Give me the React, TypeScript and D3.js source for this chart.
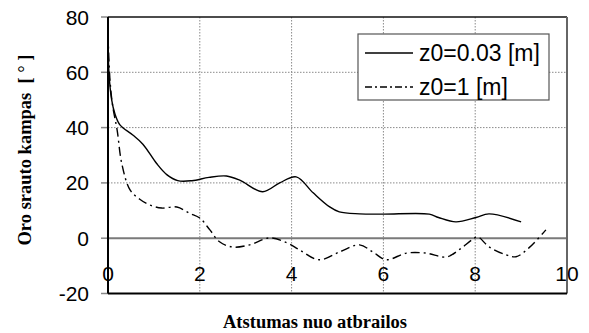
import React from "react";
import * as d3 from "d3";

// Distance from the edge (x) and airflow angle in degrees (y)
const roughLowX = [0, 0.02, 0.08, 0.15, 0.26, 0.54, 0.76, 1.06, 1.28, 1.52, 1.83, 2.2, 2.58, 2.87, 3.37, 3.74, 4.1, 4.47, 4.83, 5.04, 5.48, 6.0, 7.0, 7.2, 7.58, 8.02, 8.3, 9.0];
const roughLowY = [74, 60, 50, 45, 41, 37.3, 34, 27, 23, 20.8, 20.8, 22, 22.5, 21, 16.8, 20, 22.2, 16.4, 11.3, 9.5, 8.8, 8.7, 8.7, 7.5, 5.9, 7.5, 8.8, 5.9];

const roughHighX = [0, 0.04, 0.1, 0.2, 0.3, 0.48, 0.7, 0.91, 1.17, 1.5, 1.78, 2.0, 2.22, 2.43, 2.72, 3.09, 3.52, 3.9, 4.17, 4.6, 5.04, 5.48, 5.77, 6.06, 6.5, 6.93, 7.37, 7.65, 7.93, 8.05, 8.3, 8.67, 8.89, 9.17, 9.54];
const roughHighY = [74, 58, 48, 39, 27, 17.5, 14, 12, 10.9, 11.3, 9, 7.3, 3, -1.3, -3.2, -2.4, 0.1, -1.7, -4.2, -7.8, -5, -2.4, -5, -7.8, -5.4, -5.4, -6.8, -4.2, -0.6, 0.5, -3.1, -6, -6.7, -3.5, 3];

const xTicks = [0, 2, 4, 6, 8, 10];
const yTicks = [-20, 0, 20, 40, 60, 80];
const seriesLabels = ["z0=0.03 [m]", "z0=1 [m]"];

const W = 589;
const H = 333;
const L = 108;
const R = 567;
const T = 17;
const B = 293.5;

export default function App() {
  const x = d3.scaleLinear().domain([0, 10]).range([L, R]);
  const y = d3.scaleLinear().domain([-20, 80]).range([B, T]);

  const line = d3
    .line<[number, number]>()
    .x((d) => x(d[0]))
    .y((d) => y(d[1]))
    .curve(d3.curveCatmullRom.alpha(0.5));

  const lowPts = roughLowX.map((v, i) => [v, roughLowY[i]] as [number, number]);
  const highPts = roughHighX.map((v, i) => [v, roughHighY[i]] as [number, number]);

  const axisFont = "Arial, 'Liberation Sans', sans-serif";
  const titleFont = "'Times New Roman', 'Liberation Serif', serif";
  const dash = "9,4,2,4";

  return (
    <svg
      width={W}
      height={H}
      style={{ position: "absolute", left: 0, top: 0, background: "#fff" }}
    >
      {/* grid */}
      {xTicks
        .filter((t) => t > 0 && t < 10)
        .map((t) => (
          <line key={"gx" + t} x1={x(t)} x2={x(t)} y1={T} y2={B} stroke="#8a8a8a" strokeWidth={1} strokeDasharray="1.5,1.5" />
        ))}
      {yTicks
        .filter((t) => t > 0 && t < 80)
        .map((t) => (
          <line key={"gy" + t} x1={L} x2={R} y1={y(t)} y2={y(t)} stroke="#8a8a8a" strokeWidth={1} strokeDasharray="1.5,1.5" />
        ))}
      {/* zero line */}
      <line x1={L} x2={R} y1={y(0)} y2={y(0)} stroke="#7a7a7a" strokeWidth={2} />

      {/* y tick marks */}
      {yTicks.map((t) => (
        <line key={"ty" + t} x1={L - 7} x2={L} y1={y(t)} y2={y(t)} stroke="#888" strokeWidth={1.5} />
      ))}

      {/* frame */}
      <line x1={L} x2={R} y1={T} y2={T} stroke="#111" strokeWidth={1.5} />
      <line x1={R} x2={R} y1={T} y2={B} stroke="#666" strokeWidth={2} />
      <line x1={L} x2={L} y1={T} y2={B} stroke="#000" strokeWidth={2} />
      <line x1={L} x2={R} y1={B} y2={B} stroke="#000" strokeWidth={2} />

      {/* series */}
      <path d={line(lowPts) || ""} fill="none" stroke="#000" strokeWidth={1.4} />
      <path d={line(highPts) || ""} fill="none" stroke="#000" strokeWidth={1.4} strokeDasharray={dash} />

      {/* tick labels */}
      {yTicks.map((t) => (
        <text key={"ly" + t} x={89} y={y(t)} dy="0.36em" textAnchor="end" fontFamily={axisFont} fontSize={21} fill="#000">
          {t}
        </text>
      ))}
      {xTicks.map((t) => (
        <text key={"lx" + t} x={x(t)} y={273} dy="0.36em" textAnchor="middle" fontFamily={axisFont} fontSize={21} fill="#000">
          {t}
        </text>
      ))}

      {/* legend */}
      <rect x={358} y={34} width={191} height={66} fill="#fff" stroke="#555" strokeWidth={1.2} />
      <line x1={365} x2={413} y1={53} y2={53} stroke="#000" strokeWidth={1.4} />
      <line x1={365} x2={413} y1={87} y2={87} stroke="#000" strokeWidth={1.4} strokeDasharray="7,3,2,3" />
      <text x={419} y={53} dy="0.36em" fontFamily={axisFont} fontSize={23} fill="#000">
        {seriesLabels[0]}
      </text>
      <text x={419} y={87} dy="0.36em" fontFamily={axisFont} fontSize={23} fill="#000">
        {seriesLabels[1]}
      </text>

      {/* axis titles */}
      <text
        transform={`translate(31,150) rotate(-90)`}
        textAnchor="middle"
        fontFamily={titleFont}
        fontWeight="bold"
        fontSize={18.5}
        fill="#000"
        style={{ whiteSpace: "pre" }}
      >
        {"Oro srauto kampas  [ ° ]"}
      </text>
      <text x={315} y={328} textAnchor="middle" fontFamily={titleFont} fontWeight="bold" fontSize={18.5} fill="#000">
        Atstumas nuo atbrailos
      </text>
    </svg>
  );
}
